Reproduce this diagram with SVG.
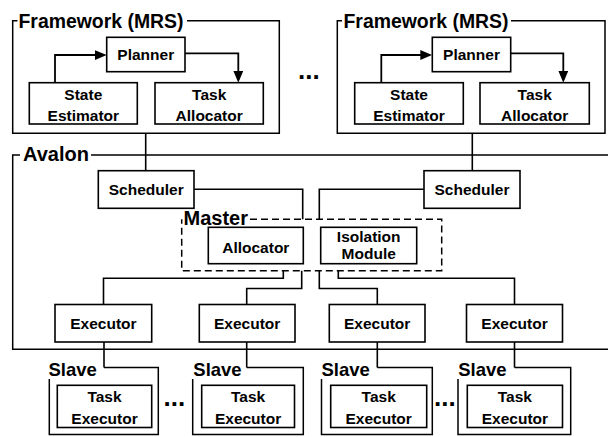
<svg xmlns="http://www.w3.org/2000/svg" width="608" height="437" viewBox="0 0 608 437">
<style>
.b{fill:#fff;stroke:#000;stroke-width:1.6}
.g{fill:none;stroke:#000;stroke-width:1.5}
.d{fill:none;stroke:#000;stroke-width:1.5;stroke-dasharray:7 4}
.c{fill:none;stroke:#000;stroke-width:1.6}
.a{fill:none;stroke:#000;stroke-width:1.8;marker-end:url(#ah)}
text{font-family:"Liberation Sans",Arial,sans-serif;font-weight:bold;fill:#000}
.n{font-size:15.5px;text-anchor:middle}
.gl{font-size:20px}
.sl{font-size:18.5px}
.dots{font-size:26px}
</style>
<defs>
<marker id="ah" viewBox="0 0 12 10" refX="9" refY="5" markerWidth="12" markerHeight="10" markerUnits="userSpaceOnUse" orient="auto">
<path d="M0,0 L12,5 L0,10 z" fill="#000"/>
</marker>
</defs>
<rect width="608" height="437" fill="#fff"/>

<g id="avalon">
<path class="g" d="M20 155 H12.7 V349.3 H608 M91 155 H608"/>
<text class="gl" x="23" y="160.7" font-size="19">Avalon</text>
</g>

<g id="framework1">
<path class="g" d="M17.5 20.7 H12.7 V133.3 H279.3 V20.7 H187"/>
<text class="gl" x="18.5" y="28.3" textLength="165" lengthAdjust="spacingAndGlyphs">Framework (MRS)</text>
<g id="planner1"><rect class="b" x="106.7" y="37.3" width="78.3" height="34.4"/><text class="n" x="145.8" y="60">Planner</text></g>
<g id="stateest1"><rect class="b" x="29.3" y="82.7" width="108" height="41.3"/><text class="n" x="83.3" y="100">State</text><text class="n" x="83.3" y="120.5">Estimator</text></g>
<g id="taskalloc1"><rect class="b" x="155" y="82.7" width="108.3" height="41.3"/><text class="n" x="209.2" y="100">Task</text><text class="n" x="209.2" y="120.5">Allocator</text></g>
</g>

<g id="framework2">
<path class="g" d="M342 20.7 H337.3 V133.3 H605 V20.7 H511"/>
<text class="gl" x="343.5" y="28.3" textLength="165" lengthAdjust="spacingAndGlyphs">Framework (MRS)</text>
<g id="planner2"><rect class="b" x="432.3" y="37.3" width="78.4" height="34.4"/><text class="n" x="471.5" y="60">Planner</text></g>
<g id="stateest2"><rect class="b" x="354.7" y="82.7" width="108.6" height="41.3"/><text class="n" x="409" y="100">State</text><text class="n" x="409" y="120.5">Estimator</text></g>
<g id="taskalloc2"><rect class="b" x="480" y="82.7" width="109.3" height="41.3"/><text class="n" x="534.7" y="100">Task</text><text class="n" x="534.7" y="120.5">Allocator</text></g>
</g>

<g id="dots-top"><text class="dots" x="298" y="78.5">...</text></g>

<g id="scheduler1"><rect class="b" x="98.3" y="170.7" width="95.7" height="37.6"/><text class="n" x="146.2" y="195">Scheduler</text></g>
<g id="scheduler2"><rect class="b" x="424" y="170.7" width="96" height="37.6"/><text class="n" x="472" y="195">Scheduler</text></g>

<g id="master">
<path class="d" d="M250 219.3 H441.7 V270.7 H181.7 V219.3"/>
<text class="gl" x="183.5" y="225" font-size="19.5">Master</text>
<g id="allocator"><rect class="b" x="208.3" y="227.3" width="95" height="36.4"/><text class="n" x="255.8" y="252.7">Allocator</text></g>
<g id="isolation"><rect class="b" x="320.7" y="227.3" width="96" height="36.4"/><text class="n" x="368.7" y="241.7">Isolation</text><text class="n" x="368.7" y="259.3">Module</text></g>
</g>

<g id="executor1"><rect class="b" x="55" y="304.5" width="96.7" height="37.5"/><text class="n" x="103.4" y="328.5">Executor</text></g>
<g id="executor2"><rect class="b" x="199.3" y="304.5" width="95.7" height="37.5"/><text class="n" x="247.2" y="328.5">Executor</text></g>
<g id="executor3"><rect class="b" x="329.3" y="304.5" width="95.7" height="37.5"/><text class="n" x="377.2" y="328.5">Executor</text></g>
<g id="executor4"><rect class="b" x="466.5" y="304.5" width="96" height="37.5"/><text class="n" x="514.5" y="328.5">Executor</text></g>

<g id="slave1">
<path class="g" d="M104 367.5 H158.3 V434.5 H49.3 V379"/>
<text class="sl" x="48.5" y="376.3">Slave</text>
<rect class="b" x="57.3" y="385.3" width="94.4" height="42.2"/><text class="n" x="104.5" y="402">Task</text><text class="n" x="104.5" y="423.5">Executor</text>
</g>
<g id="slave2">
<path class="g" d="M246.7 367.5 H303.3 V434.5 H192.7 V379"/>
<text class="sl" x="193.3" y="376.3">Slave</text>
<rect class="b" x="201.7" y="385.3" width="92.8" height="42.2"/><text class="n" x="248.1" y="402">Task</text><text class="n" x="248.1" y="423.5">Executor</text>
</g>
<g id="slave3">
<path class="g" d="M377.3 367.5 H432.3 V434.5 H321.5 V379"/>
<text class="sl" x="321.5" y="376.3">Slave</text>
<rect class="b" x="330.7" y="385.3" width="96" height="42.2"/><text class="n" x="378.7" y="402">Task</text><text class="n" x="378.7" y="423.5">Executor</text>
</g>
<g id="slave4">
<path class="g" d="M514.5 367.5 H570.7 V434.5 H458 V379"/>
<text class="sl" x="458.2" y="376.3">Slave</text>
<rect class="b" x="467.3" y="385.3" width="95.2" height="42.2"/><text class="n" x="514.9" y="402">Task</text><text class="n" x="514.9" y="423.5">Executor</text>
</g>

<g id="dots-bottom">
<text class="dots" x="163.5" y="406">...</text>
<text class="dots" x="434" y="406">...</text>
</g>

<g id="connectors">
<path class="a" d="M55 82.7 V55 H103.7"/>
<path class="a" d="M185 53.3 H238.3 V79.7"/>
<path class="a" d="M381.3 82.7 V55 H429.3"/>
<path class="a" d="M510.7 53.3 H563.3 V79.7"/>
<path class="c" d="M145.7 133.3 V170.7"/>
<path class="c" d="M472.3 133.3 V170.7"/>
<path class="c" d="M194 189.3 H302.7 V219.3"/>
<path class="c" d="M424 189.3 H319.3 V219.3"/>
<path class="c" d="M283.3 270.7 V278.3 H103.5 V304.5"/>
<path class="c" d="M301.7 270.7 V288.5 H246.7 V304.5"/>
<path class="c" d="M319.3 270.7 V288.5 H377.3 V304.5"/>
<path class="c" d="M338.3 270.7 V278.3 H514.5 V304.5"/>
<path class="c" d="M104 342 V367.5"/>
<path class="c" d="M246.7 342 V367.5"/>
<path class="c" d="M377.3 342 V367.5"/>
<path class="c" d="M514.5 342 V367.5"/>
</g>
</svg>
